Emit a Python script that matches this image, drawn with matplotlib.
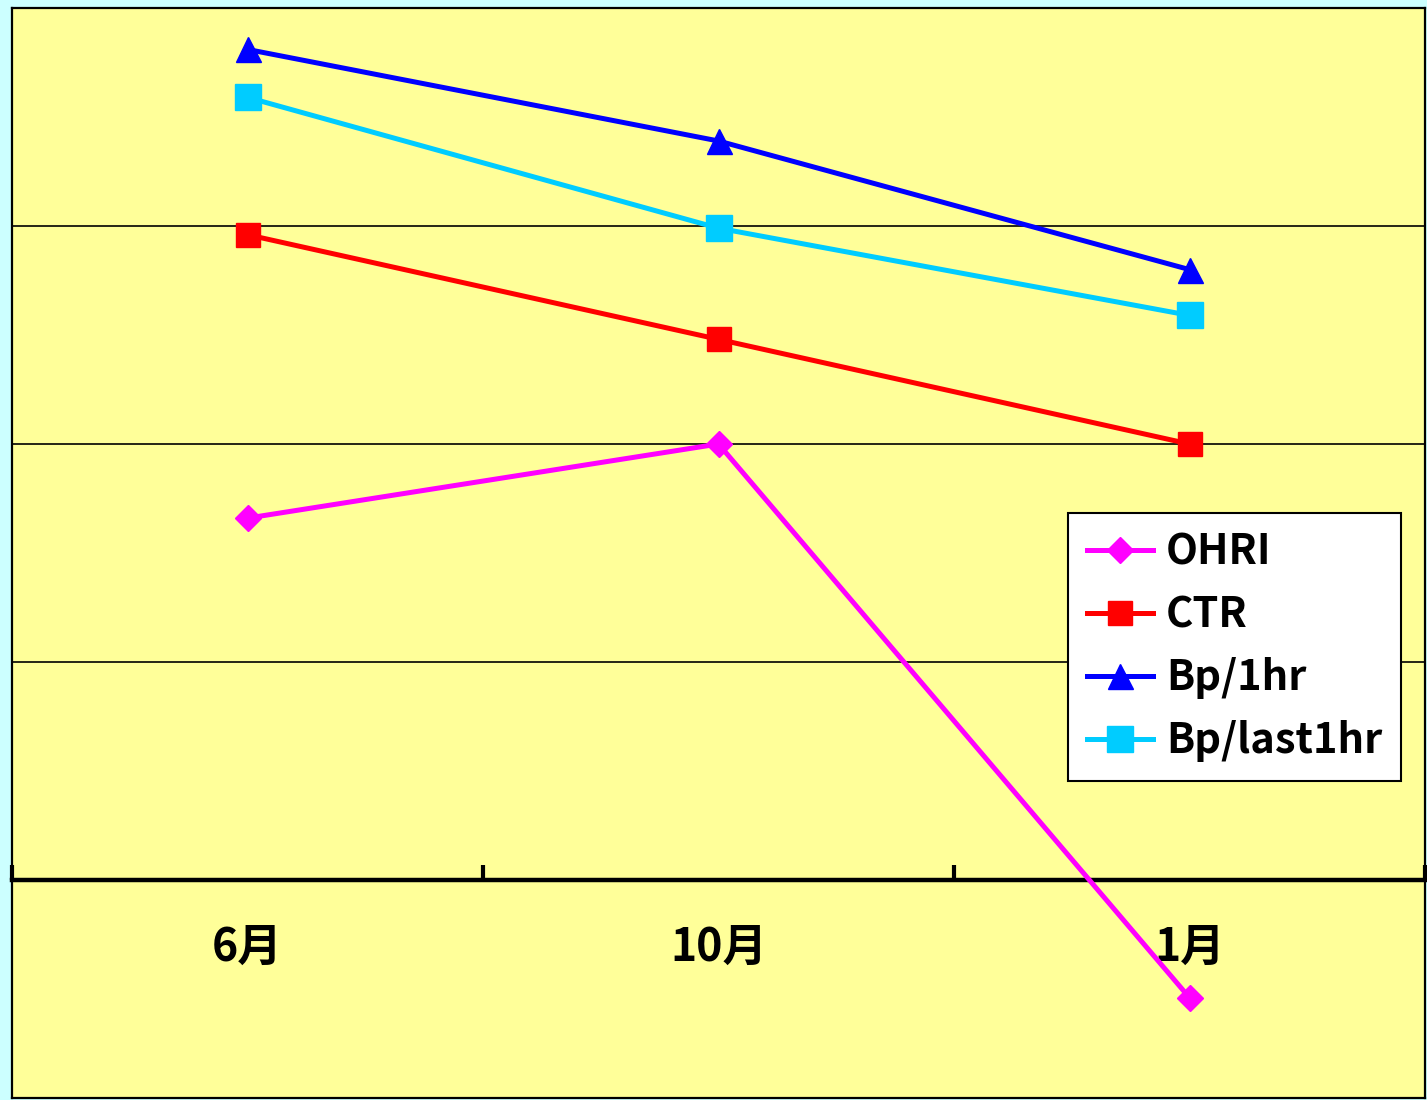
import matplotlib
matplotlib.use("Agg")
import matplotlib.pyplot as plt
from matplotlib.lines import Line2D

plt.rcParams['font.family'] = ['Noto Sans CJK JP', 'DejaVu Sans']

months = ['6月', '10月', '1月']
ohri = [1.66, 2.0, -0.54]
ctr = [2.96, 2.48, 2.0]
bp_1hr = [3.81, 3.39, 2.80]
bp_last1hr = [3.59, 2.99, 2.59]

series = [
    ('OHRI', ohri, '#FF00FF', 'D', 13),
    ('CTR', ctr, '#FF0000', 's', 17),
    ('Bp/1hr', bp_1hr, '#0000FF', '^', 18),
    ('Bp/last1hr', bp_last1hr, '#00CCFF', 's', 19),
]

fig = plt.figure(figsize=(14.27, 11), dpi=100, facecolor='#CCFFFF')
ax = fig.add_axes([12 / 1427, 2 / 1100, 1413 / 1427, 1090 / 1100])
ax.set_facecolor('#FFFF99')

xs = [i + 0.5 for i in range(len(months))]
for name, vals, color, marker, ms in series:
    ax.plot(xs, vals, color=color, lw=3.6, marker=marker, markersize=ms,
            label=name, zorder=3)

ax.set_xlim(0, 3)
ax.set_ylim(-1, 4)

# horizontal gridlines
for y in (1, 2, 3):
    ax.axhline(y, color='black', lw=1.2, zorder=1)

# category axis sits at y = 0
ax.spines['bottom'].set_position(('data', 0))
ax.spines['bottom'].set_linewidth(3.2)
for side in ('left', 'top', 'right'):
    ax.spines[side].set_linewidth(1.6)
ax.add_line(Line2D([0, 1], [0, 0], transform=ax.transAxes, color='black',
                   lw=1.6, clip_on=False))

ax.set_yticks([])
ax.set_xticks([0, 1, 2, 3])
ax.set_xticklabels([])
ax.tick_params(axis='x', which='major', direction='in', length=11, width=3)
ax.set_xticks(xs, minor=True)
ax.set_xticklabels(months, minor=True, fontsize=32, fontweight='bold')
ax.tick_params(axis='x', which='minor', length=0, pad=32)

leg = ax.legend(loc='upper left', bbox_to_anchor=(1068 / 1427, 1 - 513 / 1100),
                bbox_transform=fig.transFigure, borderaxespad=0,
                prop={'size': 30, 'weight': 'bold'}, frameon=True,
                fancybox=False, framealpha=1, edgecolor='black',
                handlelength=1.6, handletextpad=0.3, labelspacing=0.5,
                borderpad=0.45)
leg.get_frame().set_linewidth(1.5)

fig.savefig('out.png', dpi=100, facecolor=fig.get_facecolor())
